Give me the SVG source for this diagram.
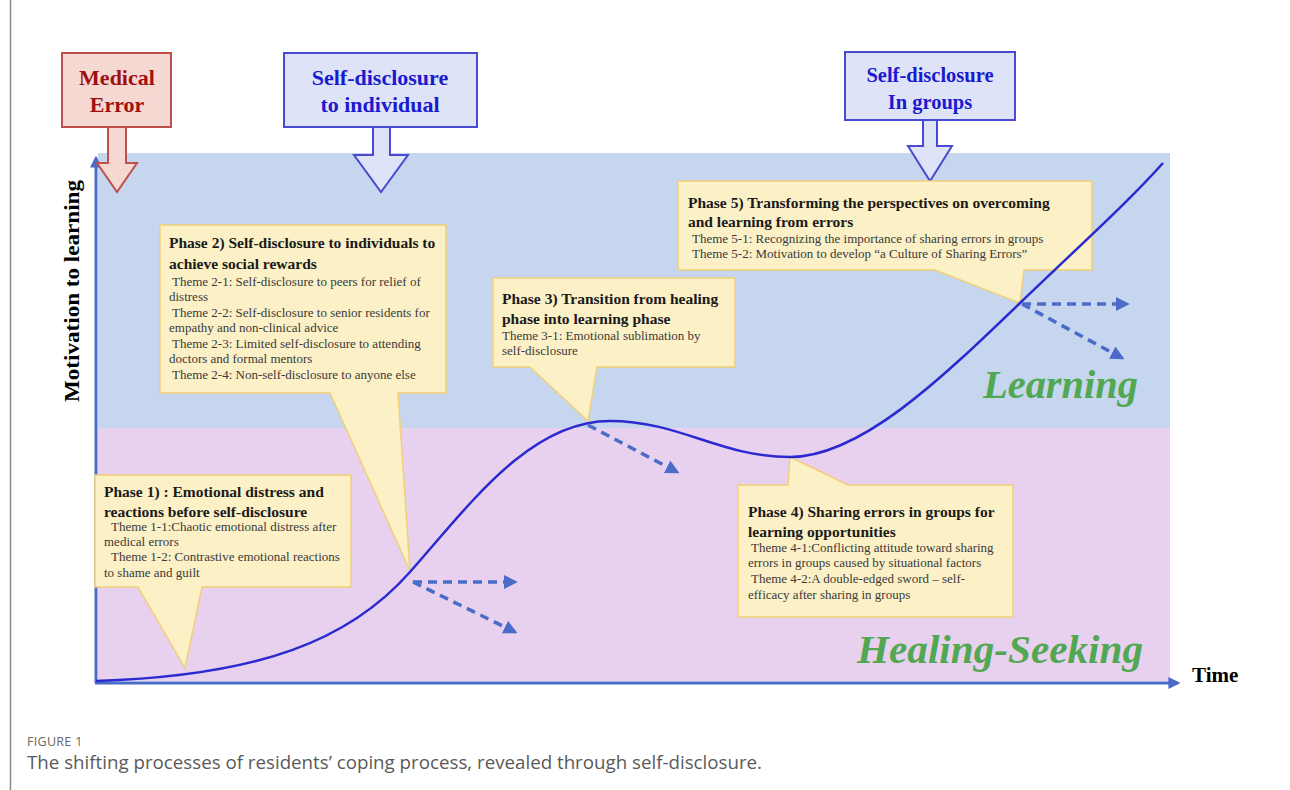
<svg xmlns="http://www.w3.org/2000/svg" width="1290" height="790" viewBox="0 0 1290 790">
<defs>
<style>
.ser{font-family:"Liberation Serif","Times New Roman",serif}
.ttl{font-family:"Liberation Serif",serif;font-weight:bold;font-size:15.5px;fill:#1a1a1a}
.thm{font-family:"Liberation Serif",serif;font-size:13px;fill:#3a3a3a}
.call{fill:#fcf0c6;stroke:#f0d07a;stroke-width:1.5}
.bbox{fill:#dfe3f7;stroke:#4a4ad0;stroke-width:2}
.btxt{font-family:"Liberation Serif",serif;font-weight:bold;font-size:22px;fill:#1a1ad0;text-anchor:middle}
.zone{font-family:"Liberation Serif",serif;font-weight:bold;font-style:italic;font-size:40px;fill:#52a852}
.dash{fill:none;stroke:#4a6cc8;stroke-width:3.5;stroke-dasharray:9 6;marker-end:url(#ah)}
</style>
<marker id="ah" viewBox="0 0 10 10" refX="8" refY="5" markerWidth="4" markerHeight="4" orient="auto"><path d="M0,0 L10,5 L0,10 Z" fill="#4a6cc8"/></marker>
<marker id="ax" viewBox="0 0 10 10" refX="8" refY="5" markerWidth="4" markerHeight="4" orient="auto"><path d="M0,0 L10,5 L0,10 Z" fill="#4a6cc8"/></marker>
</defs>
<rect width="1290" height="790" fill="#ffffff"/>
<line x1="10.5" y1="0" x2="10.5" y2="790" stroke="#8a8a8a" stroke-width="1.5"/>

<g id="bands">
<rect x="98" y="153" width="1072" height="275" fill="#c6d6ee"/>
<rect x="98" y="428" width="1072" height="253" fill="#e8d0ef"/>
</g>

<g id="axes">
<line x1="96" y1="683" x2="96" y2="158" stroke="#4a6cc8" stroke-width="3" marker-end="url(#ax)"/>
<line x1="95" y1="683" x2="1178" y2="683" stroke="#4a6cc8" stroke-width="3" marker-end="url(#ax)"/>
<text class="ser" x="0" y="0" transform="translate(79,291) rotate(-90)" text-anchor="middle" font-weight="bold" font-size="22" textLength="222" lengthAdjust="spacingAndGlyphs" fill="#000">Motivation to learning</text>
<text class="ser" x="1192" y="682" font-weight="bold" font-size="21" fill="#000">Time</text>
</g>

<g id="zone-labels">
<text class="zone" x="983" y="398" textLength="155" lengthAdjust="spacingAndGlyphs">Learning</text>
<text class="zone" x="857" y="663" textLength="286" lengthAdjust="spacingAndGlyphs">Healing-Seeking</text>
</g>

<g id="medical-error">
<rect x="62" y="53" width="109" height="74" fill="#f6d8d2" stroke="#c0504d" stroke-width="2"/>
<text class="btxt" x="117" y="85" style="fill:#a01010">Medical</text>
<text class="btxt" x="117" y="112" style="fill:#a01010">Error</text>
<polygon points="108,127 126,127 126,163 137,163 117,192 97,163 108,163" fill="#f6d8d2" stroke="#c0504d" stroke-width="2"/>
</g>

<g id="sd-individual">
<rect x="284" y="53" width="193" height="74" class="bbox"/>
<text class="btxt" x="380" y="85">Self-disclosure</text>
<text class="btxt" x="380" y="112">to individual</text>
<polygon points="373,127 390,127 390,155 408,155 381,192 354,155 373,155" class="bbox"/>
</g>

<g id="sd-groups">
<rect x="845" y="52" width="170" height="68" class="bbox"/>
<text class="btxt" x="930" y="82" style="font-size:20.5px">Self-disclosure</text>
<text class="btxt" x="930" y="109" style="font-size:20.5px">In groups</text>
<polygon points="923,120 937,120 937,146 952,146 930,181 908,146 923,146" class="bbox"/>
</g>

<g id="phase2">
<path class="call" d="M160,225 H446 V393 H398 L410,571 L330,393 H160 Z"/>
<text class="ttl" x="169" y="248">Phase 2) Self-disclosure to individuals to</text>
<text class="ttl" x="169" y="269">achieve social rewards</text>
<text class="thm" x="172" y="286">Theme 2-1: Self-disclosure to peers for relief of</text>
<text class="thm" x="169" y="301">distress</text>
<text class="thm" x="172" y="317">Theme 2-2: Self-disclosure to senior residents for</text>
<text class="thm" x="169" y="332">empathy and non-clinical advice</text>
<text class="thm" x="172" y="348">Theme 2-3: Limited self-disclosure to attending</text>
<text class="thm" x="169" y="363">doctors and formal mentors</text>
<text class="thm" x="172" y="379">Theme 2-4: Non-self-disclosure to anyone else</text>
</g>

<g id="phase3">
<path class="call" d="M493,278 H735 V367 H597 L588,421 L530,367 H493 Z"/>
<text class="ttl" x="502" y="304">Phase 3)  Transition from healing</text>
<text class="ttl" x="502" y="324">phase into learning phase</text>
<text class="thm" x="502" y="340">Theme 3-1: Emotional sublimation by</text>
<text class="thm" x="502" y="355">self-disclosure</text>
</g>

<g id="phase5">
<path class="call" d="M678,181 H1092 V270 H1024 L1020,303 L935,270 H678 Z"/>
<text class="ttl" x="688" y="208">Phase 5)  Transforming the perspectives on overcoming</text>
<text class="ttl" x="688" y="227">and learning from errors</text>
<text class="thm" x="692" y="243">Theme 5-1: Recognizing the importance of sharing errors in groups</text>
<text class="thm" x="692" y="258">Theme 5-2: Motivation to develop “a Culture of Sharing Errors”</text>
</g>

<g id="phase1">
<path class="call" d="M95,475 H351 V587 H202 L185,668 L138,587 H95 Z"/>
<text class="ttl" x="104" y="497">Phase 1) : Emotional distress and</text>
<text class="ttl" x="104" y="517">reactions before self-disclosure</text>
<text class="thm" x="111" y="531">Theme 1-1:Chaotic emotional distress after</text>
<text class="thm" x="104" y="546">medical errors</text>
<text class="thm" x="111" y="561">Theme 1-2: Contrastive emotional reactions</text>
<text class="thm" x="104" y="577">to shame and guilt</text>
</g>

<g id="phase4">
<path class="call" d="M738,485 H788 L790,457 L848,485 H1013 V617 H738 Z"/>
<text class="ttl" x="748" y="517">Phase 4)  Sharing errors in groups for</text>
<text class="ttl" x="748" y="537">learning opportunities</text>
<text class="thm" x="751" y="552">Theme 4-1:Conflicting attitude toward sharing</text>
<text class="thm" x="748" y="567">errors in groups caused by situational factors</text>
<text class="thm" x="751" y="583">Theme 4-2:A double-edged sword – self-</text>
<text class="thm" x="748" y="599">efficacy after sharing in groups</text>
</g>

<g id="connectors">
<path d="M96,681 C260,676 350,640 410,572 C470,504 530,421 610,421 C680,421 720,457 790,457 C860,457 940,380 1020,303 C1090,236 1130,200 1163,163" fill="none" stroke="#2a2ad0" stroke-width="2.5"/>
<line class="dash" x1="413" y1="582" x2="515" y2="582"/>
<line class="dash" x1="413" y1="582" x2="515" y2="632"/>
<line class="dash" x1="588" y1="425" x2="677" y2="472"/>
<line class="dash" x1="1022" y1="304" x2="1127" y2="304"/>
<line class="dash" x1="1022" y1="304" x2="1122" y2="358"/>
</g>

<g id="caption">
<text x="27" y="746" font-family="'Open Sans',sans-serif" font-size="12.5" fill="#666" letter-spacing="0.3">FIGURE 1</text>
<text x="27" y="769" font-family="'Open Sans',sans-serif" font-size="18" fill="#5a5a5a" textLength="735" lengthAdjust="spacingAndGlyphs">The shifting processes of residents’ coping process, revealed through self-disclosure.</text>
</g>
</svg>
